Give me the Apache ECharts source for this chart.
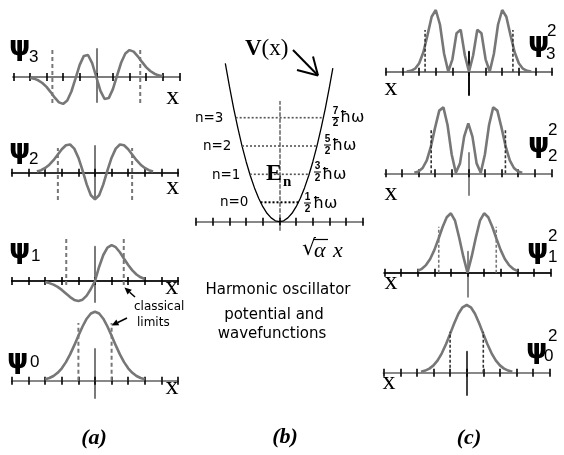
<!DOCTYPE html>
<html><head><meta charset="utf-8">
<script src="https://cdn.jsdelivr.net/npm/echarts@6/dist/echarts.min.js"></script>
<style>html,body{margin:0;padding:0;background:#fff}#c{width:564px;height:455px}</style>
</head><body><div id="c"></div>
<script>
// ---------- data ----------
const xs = [-4,-3.75,-3.5,-3.25,-3,-2.75,-2.5,-2.25,-2,-1.75,-1.5,-1.25,-1,-0.75,-0.5,-0.25,0,0.25,0.5,0.75,1,1.25,1.5,1.75,2,2.25,2.5,2.75,3,3.25,3.5,3.75,4];
// (a) wavefunctions (height above axis, px units)
const psi3 = [-0.8,-1.6,-3.3,-6.0,-9.9,-15.1,-20.7,-25.4,-26.9,-23.5,-14.5,-1.4,12.1,21.1,22.0,13.9,0,-13.9,-22.0,-21.1,-12.1,1.4,14.5,23.5,26.9,25.4,20.7,15.1,9.9,6.0,3.3,1.6,0.8];
const psi2 = [null,null,1.3,2.5,4.7,8.0,12.5,18.0,23.5,27.5,28.2,24.1,15.0,2.3,-11.7,-22.6,-26.6,-22.6,-11.7,2.3,15.0,24.1,28.2,27.5,23.5,18.0,12.5,8.0,4.7,2.5,1.3,null,null];
const psi1 = [null,null,null,null,-1.1,-2.1,-3.6,-5.9,-8.9,-12.5,-16.1,-18.9,-20.0,-18.7,-14.6,-8.0,0,14.3,26.0,33.4,35.8,33.8,28.7,22.3,16.0,10.6,6.5,3.7,2.0,null,null,null,null];
const psi0 = [null,null,null,null,1.5,2.7,4.7,7.9,12.4,18.6,26.3,35.3,44.9,54.2,62.0,67.2,69,67.2,62.0,54.2,44.9,35.3,26.3,18.6,12.4,7.9,4.7,2.7,1.5,null,null,null,null];
// (c) probability densities
const psi3sq = [null,0.2,0.9,3.0,8.4,19.5,36.6,54.9,61.7,47.2,18.0,0.2,12.4,38.5,42.0,16.4,0,16.4,42.0,38.5,12.4,0.2,18.0,47.2,61.7,54.9,36.6,19.5,8.4,3.0,0.9,0.2,null];
const psi2sq = [null,null,null,0.5,1.8,5.3,13.0,26.9,45.7,62.7,65.9,48.3,18.8,0.5,9.9,36.7,50,36.7,9.9,0.5,18.8,48.3,65.9,62.7,45.7,26.9,13.0,5.3,1.8,0.5,null,null,null];
const psi1sq = [null,null,null,null,1.8,3.9,7.6,13.7,22.6,33.7,45.7,55.4,59.4,52,35,16,0,16,35,52,59.4,55.4,45.7,33.7,22.6,13.7,7.6,3.9,1.8,null,null,null,null];
const psi0sq = [null,null,null,null,null,1.0,2.1,4.1,7.3,12.3,19.4,28.4,38.8,49.5,58.9,65.4,67.7,65.4,58.9,49.5,38.8,28.4,19.4,12.3,7.3,4.1,2.1,1.0,null,null,null,null,null];
// classical turning points for n = 3,2,1,0
const limits = [2.646, 2.236, 1.732, 1.0];
const dashATop = [27, 24.7, 42, 57.7], dashABot = [-26, -27.3, -4, 0];
const dashCTop = [41.7, 43.3, 46, 41], dashCBot = [0, 0, 0, 0];
// (b) potential
const potX = [-3.25,-3,-2.75,-2.5,-2.25,-2,-1.75,-1.5,-1.25,-1,-0.75,-0.5,-0.25,0,0.25,0.5,0.75,1,1.25,1.5,1.75,2,2.25,2.5,2.75,3,3.2];
const potV = [158.4,135,113.4,93.8,75.9,60,45.9,33.8,23.4,15,8.4,3.8,0.9,0,0.9,3.8,8.4,15,23.4,33.8,45.9,60,75.9,93.8,113.4,135,153.6];
const levelE = [19.4, 47.4, 75.7, 104];      // n = 0..3
const levelHW = [1.14, 1.78, 2.25, 2.63];
const levelNames = ['n=0','n=1','n=2','n=3'];
const levelNum = ['1','3','5','7'];

// ---------- layout ----------
const P = [
 {cx:96.3, ay:77,    up:28,   dn:25,   u:16.6, axis:'#7d7d7d', ctr:'#7a7a7a'},
 {cx:95,   ay:172.7, up:26.7, dn:26.3, u:16.6, axis:'#333',    ctr:'#7a7a7a'},
 {cx:95,   ay:281,   up:34.3, dn:21,   u:16.6, axis:'#222',    ctr:'#7a7a7a'},
 {cx:95,   ay:380.7, up:31.7, dn:17.3, u:16.6, axis:'#888',    ctr:'#7a7a7a'},
 {cx:279.5,ay:221.7, up:120,  dn:8.3,  u:16.67,axis:'#888',    ctr:'#888', ctrType:[3,3]},
 {cx:469,  ay:71.7,  up:20,   dn:23.3, u:16.6, axis:'#7d7d7d', ctr:'#111'},
 {cx:468.3,ay:173.3, up:20.3, dn:21.7, u:16.6, axis:'#888',    ctr:'#888'},
 {cx:467.5,ay:272.7, up:21,   dn:24,   u:16.6, axis:'#222',    ctr:'#888'},
 {cx:466.7,ay:372.7, up:21,   dn:22.3, u:16.6, axis:'#888',    ctr:'#444'}
];

const grid=[], xAxis=[], yAxis=[], series=[];
P.forEach((p,i)=>{
  grid.push({left:p.cx-5*p.u, top:p.ay-p.up, width:10*p.u, height:p.up+p.dn, containLabel:false});
  ['bottom','top'].forEach(pos=>{
    xAxis.push({gridIndex:i, type:'value', min:-5, max:5, interval:1, position:pos,
      axisLine:{show:true, onZero:true, onZeroAxisIndex:i, lineStyle:{color:p.axis, width:2}},
      axisTick:{show:true, length:4, lineStyle:{color:'#000', width:1.6}},
      axisLabel:{show:false}, splitLine:{show:false}});
  });
  yAxis.push({gridIndex:i, type:'value', min:-p.dn, max:p.up,
    axisLine:{show:true, onZero:true, lineStyle:{color:p.ctr, width:2, type:p.ctrType||'solid'}},
    axisTick:{show:false}, axisLabel:{show:false}, splitLine:{show:false}});
});

const pts = arr => xs.map((x,k)=>[x, arr[k]]).filter(q=>q[1]!=null);
function line(gi, data, style, extra){
  return Object.assign({type:'line', xAxisIndex:2*gi, yAxisIndex:gi, data, symbol:'none',
    clip:false, silent:true, animation:false, lineStyle:style, z:3}, extra||{});
}
const curveStyle = {color:'#777', width:2.6};

// (a)
[psi3,psi2,psi1,psi0].forEach((arr,i)=>{
  series.push(line(i, pts(arr), curveStyle));
  [-1,1].forEach(s=>series.push(line(i, [[s*limits[i],dashABot[i]],[s*limits[i],dashATop[i]]],
     {color:'#777', width:2, type:[4,3]})));
});
// (c)
[psi3sq,psi2sq,psi1sq,psi0sq].forEach((arr,i)=>{
  const gi = 5+i;
  series.push(line(gi, pts(arr), curveStyle));
  [-1,1].forEach(s=>series.push(line(gi, [[s*limits[i],dashCBot[i]],[s*limits[i],dashCTop[i]]],
     {color: i===2?'#777':'#333', width:1.6, type:[3,2]})));
});
// (b)
series.push(line(4, potX.map((x,k)=>[x,potV[k]]), {color:'#000', width:1.3}));
levelE.forEach((e,k)=>{
  series.push(line(4, [[-levelHW[k],e],[levelHW[k],e]], {color:k===0?'#000':'#555', width:k===0?2:1.6, type:[2,2]}));
});

// ---------- text & annotation graphics ----------
const g = [];
function T(text,x,y,font,align,va,fill){
  g.push({type:'text', x, y, z:100, silent:true, style:{text, font, fill:fill||'#000',
    textAlign:align||'left', textVerticalAlign:va||'middle', align:align||'left', verticalAlign:va||'middle'}});
}
function L(x1,y1,x2,y2,w){ g.push({type:'line', z:100, silent:true, shape:{x1,y1,x2,y2}, style:{stroke:'#000', lineWidth:w||1}}); }
function arrow(x1,y1,x2,y2,len,half,w){
  const dx=x2-x1, dy=y2-y1, d=Math.hypot(dx,dy), ux=dx/d, uy=dy/d;
  const bx=x2-ux*len, by=y2-uy*len;
  L(x1,y1,bx,by,w);
  g.push({type:'polygon', z:100, silent:true, shape:{points:[[x2,y2],[bx-uy*half,by+ux*half],[bx+uy*half,by-ux*half]]}, style:{fill:'#000'}});
}
const PSI = 'bold 27px "DejaVu Sans"', SUB = '17px "Liberation Sans"', XF = '26px "Liberation Serif"';
// (a) labels
T('ψ',9,47.5,PSI); T('3',29,57.5,SUB);
T('ψ',9,151,PSI);  T('2',29,159,SUB);
T('ψ',9,251,PSI);  T('1',31,256.5,SUB);
T('ψ',7,361,PSI);  T('0',30,362.5,SUB);
T('x',172.7,97,XF,'center'); T('x',172.7,187,XF,'center'); T('x',171.7,287,XF,'center'); T('x',172,387,XF,'center');
T('classical',134,307,'12px "DejaVu Sans"'); T('limits',137,323,'12px "DejaVu Sans"');
arrow(135,297,124.5,287.5,7,3.2,1.5);
arrow(127,318,111.5,325.5,7,3.2,1.5);
// (c) labels
T('ψ',528,44,PSI);  T('2',547,31,SUB); T('3',546,54.5,SUB);
T('ψ',528,144.5,PSI); T('2',548,130,SUB); T('2',548,156.5,SUB);
T('ψ',527,251,PSI); T('2',548,236,SUB); T('1',548,257.5,SUB);
T('ψ',526,351,PSI); T('2',548,336,SUB); T('0',544,356.5,SUB);
T('x',391,88,XF,'center'); T('x',391,193,XF,'center'); T('x',391,282,XF,'center'); T('x',389,382,XF,'center');
// (b) labels
g.push({type:'text', x:245, y:49, z:100, silent:true, style:{text:'{b|V}{r|(x)}', textVerticalAlign:'middle', verticalAlign:'middle',
  rich:{b:{font:'bold 23px "Liberation Serif"', fill:'#000'}, r:{font:'23px "Liberation Serif"', fill:'#000'}}}});
L(293,50,318,75.5,2); L(318,75.5,297,70,2); L(318,75.5,313,56.5,2);
T('E',266,174,'bold 24px "Liberation Serif"'); T('n',283,182,'bold 15px "Liberation Serif"');
const nLab = [[220,202],[212,175],[203,146],[195,118]];
const fr = [[307.5,203,313],[317.5,172,322],[327.5,145,332],[335.5,117.5,340]];
const hwY = [204,175,146,118];
levelNames.forEach((s,k)=>{
  T(s,nLab[k][0],nLab[k][1],'13.5px "DejaVu Sans"');
  const [fx,fy,hx] = fr[k];
  T(levelNum[k],fx,fy-6,'bold 10px "Liberation Sans"','center');
  L(fx-3.5,fy,fx+3.5,fy,1);
  T('2',fx,fy+6,'bold 10px "Liberation Sans"','center');
  T('ħω',hx,hwY[k],'16px "DejaVu Sans"');
});
T('√',302,249,'22px "DejaVu Serif"'); L(313,239.5,328,239.5,1.2);
T('α',314,251,'italic 22px "Liberation Serif"'); T('x',333,251,'italic 22px "Liberation Serif"');
T('Harmonic oscillator',278,290,'15px "DejaVu Sans"','center');
T('potential and',274,315,'15px "DejaVu Sans"','center');
T('wavefunctions',272,334,'15px "DejaVu Sans"','center');
T('(a)',94,438,'bold italic 22px "Liberation Serif"','center');
T('(b)',285,437,'bold italic 22px "Liberation Serif"','center');
T('(c)',469,438,'bold italic 22px "Liberation Serif"','center');

const chart = echarts.init(document.getElementById('c'));
chart.setOption({animation:false, backgroundColor:'#fff', grid, xAxis, yAxis, series, graphic:g});
</script></body></html>
